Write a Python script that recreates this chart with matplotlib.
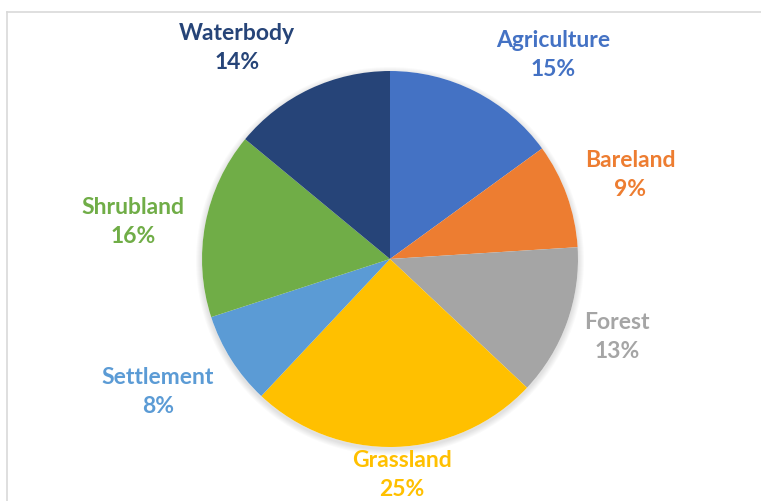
import numpy as np
import matplotlib as mpl
mpl.use('Agg')
import matplotlib.pyplot as plt
from matplotlib.patches import Circle
from matplotlib.lines import Line2D

mpl.rcParams['font.family'] = ['Lato', 'DejaVu Sans']

# land cover shares, clockwise from 12 o'clock
classes = ['Agriculture', 'Bareland', 'Forest', 'Grassland', 'Settlement', 'Shrubland', 'Waterbody']
shares = [15, 9, 13, 25, 8, 16, 14]
colors = ['#4472C4', '#ED7D31', '#A5A5A5', '#FFC000', '#5B9BD5', '#70AD47', '#264478']

# label anchor points in pixels (x, y from top)
label_pos = [(553, 55), (630, 175), (617, 337), (402, 475), (158, 392), (133, 222), (237, 48)]

W, H = 761, 501
fig = plt.figure(figsize=(W / 100., H / 100.), dpi=100)
ax = fig.add_axes([0, 0, 1, 1])

cx, cy, r = 390, H - 259, 188

# soft drop shadow behind the pie
for k in range(6):
    ax.add_patch(Circle((cx, cy - 2), r + 1 + k, color='k', alpha=0.018, lw=0, zorder=0))
ax.add_patch(Circle((cx, cy), r, color='white', lw=0, zorder=0.5))

ax.pie(shares, colors=colors, startangle=90, counterclock=False,
       center=(cx, cy), radius=r, frame=True,
       wedgeprops=dict(linewidth=0, zorder=1))
ax.set_xlim(0, W)
ax.set_ylim(0, H)
ax.set_aspect('equal')
ax.axis('off')

for name, val, col, (px, py) in zip(classes, shares, colors, label_pos):
    fig.text(px / float(W), 1 - py / float(H), '%s\n%d%%' % (name, val),
             ha='center', va='center', color=col, fontsize=16.5,
             fontweight='bold', linespacing=1.48)

# chart area border (top and left edges)
fig.add_artist(Line2D([7. / W, 7. / W], [0, 1 - 12. / H], color='#d9d9d9', lw=1.2))
fig.add_artist(Line2D([7. / W, 1], [1 - 12. / H, 1 - 12. / H], color='#d9d9d9', lw=1.2))

fig.savefig('out.png', dpi=100)
